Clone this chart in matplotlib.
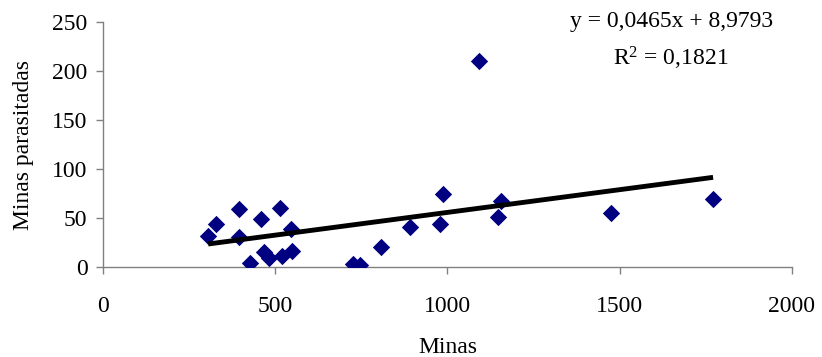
import matplotlib
matplotlib.use("Agg")
import matplotlib.pyplot as plt
import numpy as np

plt.rcParams['font.family'] = ['Liberation Serif', 'DejaVu Serif']
plt.rcParams['mathtext.fontset'] = 'custom'
plt.rcParams['mathtext.rm'] = 'Liberation Serif'
plt.rcParams['mathtext.it'] = 'Liberation Serif:italic'

# Mines counted vs. parasitised mines
minas = [306, 329, 394, 396, 459, 427, 468, 483, 514, 521, 546, 550,
         727, 746, 808, 891, 978, 986, 1093, 1148, 1155, 1475, 1771]
parasitadas = [31.6, 43.6, 30.6, 58.6, 48.7, 3.5, 15.3, 8.6, 60.2, 11.2, 38.5, 16.3,
               3.0, 1.4, 20.4, 40.8, 43.6, 74.2, 210.6, 51.0, 67.0, 54.5, 68.8]

# Linear fit reported on the chart
slope = 0.0465
intercept = 8.9793

x_ticks = [0, 500, 1000, 1500, 2000]
y_ticks = [0, 50, 100, 150, 200, 250]

FS = 17
W, H = 822, 357

fig = plt.figure(figsize=(W / 100, H / 100), dpi=100)
ax = fig.add_axes([0.125, 0.253, 0.8385, 0.685])

ax.scatter(minas, parasitadas, marker='D', s=78, color='#000080', zorder=3, linewidths=0)

xf = np.array([min(minas), max(minas)])
ax.plot(xf, slope * xf + intercept, color='black', linewidth=3.5, solid_capstyle='butt', zorder=4)

ax.set_xlim(0, 2000)
ax.set_ylim(0, 250)
ax.set_xticks(x_ticks)
ax.set_yticks(y_ticks)
ax.tick_params(direction='out', length=5, width=1, color='#808080', labelsize=FS, pad=6)
ax.tick_params(axis='x', pad=16)

for side in ('top', 'right'):
    ax.spines[side].set_visible(False)
for side in ('left', 'bottom'):
    ax.spines[side].set_color('#808080')
    ax.spines[side].set_linewidth(1)

# Axis titles
fig.text(448 / W, 1 - 353 / H, 'Minas', fontsize=FS, ha='center', va='baseline')
fig.text(23 / W, 1 - 145 / H, 'Minas parasitadas', fontsize=FS, ha='center', va='center',
         rotation=90)

# Regression equation and coefficient of determination
fig.text(672 / W, 1 - 22 / H, "y = 0,0465x + 8,9793", fontsize=FS, ha='center', va='center')
fig.text(671 / W, 1 - 58 / H, r"R$^{\mathrm{2}}$ = 0,1821", fontsize=FS, ha='center', va='center')

fig.savefig("out.png", dpi=100)
